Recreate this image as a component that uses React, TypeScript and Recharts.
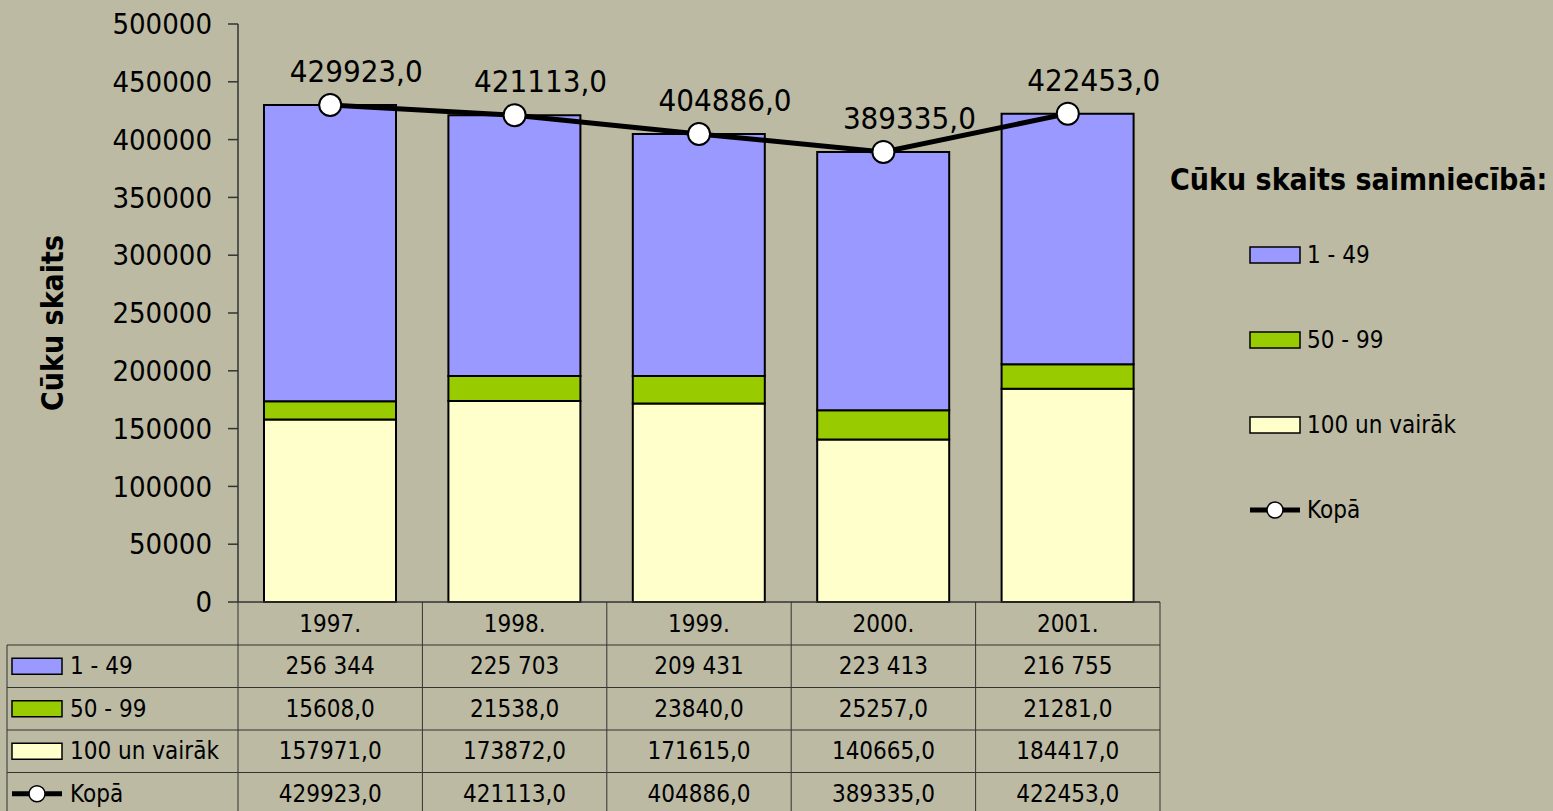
import { Bar, ComposedChart, LabelList, Legend, Line, XAxis, YAxis } from 'recharts'

const years = ['1997.', '1998.', '1999.', '2000.', '2001.']
const small = [256344, 225703, 209431, 223413, 216755]
const medium = [15608, 21538, 23840, 25257, 21281]
const large = [157971, 173872, 171615, 140665, 184417]
const total = [429923, 421113, 404886, 389335, 422453]
const yTicks = [0, 50000, 100000, 150000, 200000, 250000, 300000, 350000, 400000, 450000, 500000]

const fmtSpace = (v: number) => v.toString().replace(/\B(?=(\d{3})+(?!\d))/g, ' ')
const fmtDec = (v: number) => `${v},0`

const series = [
  { key: 'small', name: '1 - 49', color: '#9999ff', fmt: fmtSpace, line: false },
  { key: 'medium', name: '50 - 99', color: '#99cc00', fmt: fmtDec, line: false },
  { key: 'large', name: '100 un vairāk', color: '#ffffcc', fmt: fmtDec, line: false },
  { key: 'total', name: 'Kopā', color: '#000000', fmt: fmtDec, line: true },
]

const data = years.map((year, i) => ({
  year,
  small: small[i],
  medium: medium[i],
  large: large[i],
  total: total[i],
}))

const FONT = "Tahoma, 'DejaVu Sans Condensed', 'DejaVu Sans', sans-serif"
const BG = '#bcbaa3'
const GRID = '#333333'
const BAND = 184.4
const HEADER_H = 43
const ROW_H = 42.5
const TABLE_LEFT = 7

const Swatch = ({ x, cy, color, line }: { x: number; cy: number; color: string; line: boolean }) =>
  line ? (
    <g>
      <line x1={x} x2={x + 50} y1={cy} y2={cy} stroke="#000" strokeWidth={5} />
      <circle cx={x + 25} cy={cy} r={8} fill="#fff" stroke="#000" strokeWidth={1.5} />
    </g>
  ) : (
    <rect x={x} y={cy - 8} width={50} height={16} fill={color} stroke="#000" strokeWidth={1.5} />
  )

const TableTick = (props: any) => {
  const { x, y, payload } = props
  const i = props.index ?? payload.index
  const row = data[i] as any
  const left = x - BAND / 2
  const right = x + BAND / 2
  const rowsTop = y + HEADER_H
  const bottom = rowsTop + ROW_H * series.length
  return (
    <g fontFamily={FONT}>
      {i === 0 && (
        <g>
          <line x1={TABLE_LEFT} x2={left} y1={rowsTop} y2={rowsTop} stroke={GRID} />
          <line x1={TABLE_LEFT} x2={TABLE_LEFT} y1={rowsTop} y2={bottom} stroke={GRID} />
          <line x1={left} x2={left} y1={y} y2={bottom} stroke={GRID} />
          {series.map((s, k) => {
            const cy = rowsTop + ROW_H * (k + 0.5)
            return (
              <g key={s.key}>
                <line x1={TABLE_LEFT} x2={left} y1={rowsTop + ROW_H * (k + 1)} y2={rowsTop + ROW_H * (k + 1)} stroke={GRID} />
                <Swatch x={12} cy={cy} color={s.color} line={s.line} />
                <text x={70} y={cy} dominantBaseline="central" fontSize={24} fill="#000">
                  {s.name}
                </text>
              </g>
            )
          })}
        </g>
      )}
      <line x1={right} x2={right} y1={y} y2={bottom} stroke={GRID} />
      <line x1={left} x2={right} y1={rowsTop} y2={rowsTop} stroke={GRID} />
      <text x={x} y={y + HEADER_H / 2} textAnchor="middle" dominantBaseline="central" fontSize={24} fill="#000">
        {payload.value}
      </text>
      {series.map((s, k) => (
        <g key={s.key}>
          <line x1={left} x2={right} y1={rowsTop + ROW_H * (k + 1)} y2={rowsTop + ROW_H * (k + 1)} stroke={GRID} />
          <text x={x} y={rowsTop + ROW_H * (k + 0.5)} textAnchor="middle" dominantBaseline="central" fontSize={24} fill="#000">
            {s.fmt(row[s.key])}
          </text>
        </g>
      ))}
    </g>
  )
}

const LegendBox = () => (
  <svg width={385} height={380} style={{ overflow: 'visible', fontFamily: FONT }}>
    <text x={0} y={24} fontSize={30} fontWeight="bold" fill="#000" dominantBaseline="central">
      Cūku skaits saimniecībā:
    </text>
    {series.map((s, k) => {
      const cy = 100 + k * 85
      return (
        <g key={s.key}>
          <Swatch x={80} cy={cy} color={s.color} line={s.line} />
          <text x={137} y={cy} fontSize={24} fill="#000" dominantBaseline="central">
            {s.name}
          </text>
        </g>
      )
    })}
  </svg>
)

const YLabel = (props: any) => {
  const vb = props.viewBox || { x: 0, y: 24, height: 578 }
  const cx = vb.x + 52
  const cy = vb.y + vb.height / 2 + 10
  return (
    <text
      x={cx}
      y={cy}
      transform={`rotate(-90, ${cx}, ${cy})`}
      textAnchor="middle"
      dominantBaseline="central"
      fontSize={30}
      fontWeight="bold"
      fontFamily={FONT}
      fill="#000"
    >
      Cūku skaits
    </text>
  )
}

const TotalLabel = (props: any) => {
  const { x, y, value } = props
  return (
    <text x={x + 26} y={y - 23} textAnchor="middle" fontSize={31} fontFamily={FONT} fill="#000">
      {fmtDec(value)}
    </text>
  )
}

export default function App() {
  return (
    <div style={{ position: 'absolute', left: 0, top: 0, width: 1553, height: 811, background: BG, overflow: 'hidden' }}>
      <ComposedChart width={1553} height={811} data={data} margin={{ top: 24, right: 393, bottom: 0, left: 0 }}>
        <XAxis
          dataKey="year"
          height={209}
          axisLine={{ stroke: GRID, strokeWidth: 1.5 }}
          tickLine={false}
          tickSize={0}
          tickMargin={0}
          interval={0}
          tick={(p: any) => <TableTick {...p} />}
        />
        <YAxis
          width={238}
          domain={[0, 500000]}
          ticks={yTicks}
          interval={0}
          tickSize={10}
          tickMargin={16}
          axisLine={{ stroke: GRID, strokeWidth: 1.5 }}
          tickLine={{ stroke: GRID, strokeWidth: 1.5 }}
          tick={{ fill: '#000', fontSize: 29, fontFamily: FONT }}
          label={<YLabel />}
        />
        <Legend
          layout="horizontal"
          align="center"
          verticalAlign="middle"
          content={() => <LegendBox />}
          wrapperStyle={{ left: 1170, top: 155, width: 385, height: 380 }}
        />
        <Bar dataKey="large" name="100 un vairāk" stackId="a" fill="#ffffcc" stroke="#000" strokeWidth={2} barSize={132} isAnimationActive={false} />
        <Bar dataKey="medium" name="50 - 99" stackId="a" fill="#99cc00" stroke="#000" strokeWidth={2} barSize={132} isAnimationActive={false} />
        <Bar dataKey="small" name="1 - 49" stackId="a" fill="#9999ff" stroke="#000" strokeWidth={2} barSize={132} isAnimationActive={false} />
        <Line
          dataKey="total"
          name="Kopā"
          type="linear"
          stroke="#000"
          strokeWidth={5}
          dot={{ r: 11, fill: '#fff', stroke: '#000', strokeWidth: 2 }}
          activeDot={false}
          isAnimationActive={false}
        >
          <LabelList dataKey="total" content={<TotalLabel />} />
        </Line>
      </ComposedChart>
    </div>
  )
}
